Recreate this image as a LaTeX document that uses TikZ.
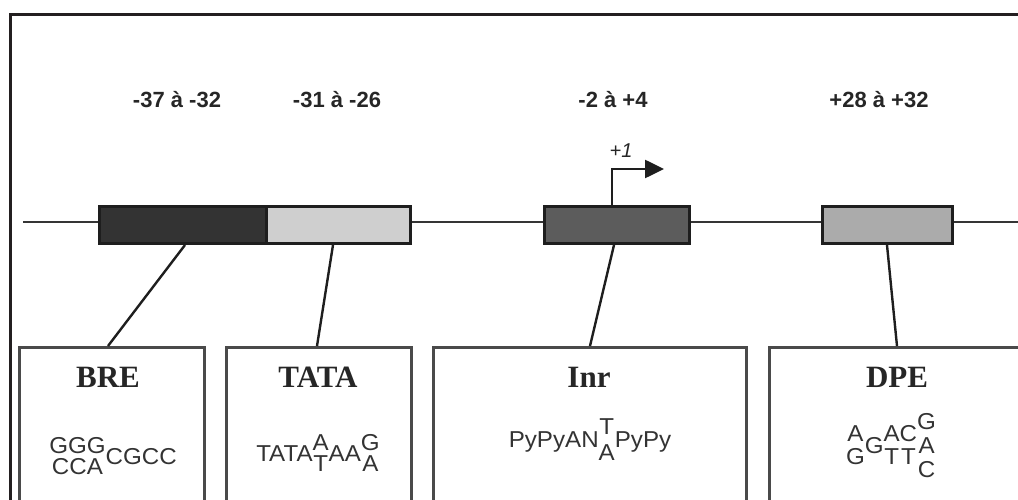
\documentclass[tikz,border=0pt]{standalone}
\usepackage{fontspec}
\setmainfont{Liberation Serif}
\setsansfont{Liberation Sans}
\newfontfamily\seqfont[FakeStretch=1.05]{Liberation Sans}
\usetikzlibrary{arrows.meta,calc}
\newcommand\stk[3][20]{\raisebox{\dimexpr -#1pt/2\relax}{\vbox{\baselineskip=#1pt\lineskiplimit=-100pt\halign{\hfil##\hfil\cr#2\cr#3\cr}}}}
\newcommand\stkk[4][24]{\raisebox{-#1pt}{\vbox{\baselineskip=#1pt\lineskiplimit=-100pt\halign{\hfil##\hfil\cr#2\cr#3\cr#4\cr}}}}
\definecolor{framec}{HTML}{231F20}
\definecolor{barline}{HTML}{1E1E1E}
\definecolor{boxline}{HTML}{4A4A4A}
\definecolor{brefill}{HTML}{333333}
\definecolor{tatafill}{HTML}{CFCFCF}
\definecolor{inrfill}{HTML}{5C5C5C}
\definecolor{dpefill}{HTML}{ABABAB}
\tikzset{
  bar/.style={draw=barline, line width=3pt, rectangle, inner sep=0pt, anchor=north west},
  lowbox/.style={draw=boxline, line width=3pt, fill=white, rectangle, inner sep=0pt, anchor=north west},
  poslabel/.style={font=\sffamily\bfseries\fontsize{22}{26}\selectfont, inner sep=0pt, anchor=base, text=black!85},
  ttl/.style={font=\rmfamily\bfseries\fontsize{31}{34}\selectfont, inner sep=0pt, anchor=base, text=black!85},
  seq/.style={font=\seqfont\fontsize{23}{18}\selectfont, inner sep=0pt, anchor=base, text=black!80},
  conn/.style={draw=barline, line width=2.4pt},
}
\begin{document}
\begin{tikzpicture}[x=1pt,y=-1pt]
\useasboundingbox (0,0) rectangle (1018,500);
\clip (0,0) rectangle (1018,500);
% frame
\draw[framec, line width=3pt] (10.5,520) -- (10.5,15) -- (1040,15);
% DNA line
\coordinate (dnaL) at (23,222);
\coordinate (dnaR) at (1030,222);
\draw[barline!90, line width=2pt] (dnaL) -- (dnaR);
% bars
\node[bar, fill=brefill, minimum width=167pt, minimum height=37pt] (brebar) at (98,205) {};
\node[bar, fill=tatafill, minimum width=144pt, minimum height=37pt] (tatabar) at (265,205) {};
\node[bar, fill=inrfill, minimum width=145pt, minimum height=37pt] (inrbar) at (543,205) {};
\node[bar, fill=dpefill, minimum width=130pt, minimum height=37pt] (dpebar) at (821,205) {};
% position labels
\node[poslabel] (l1) at (177,108) {-37 à -32};
\node[poslabel] (l2) at (337,108) {-31 à -26};
\node[poslabel] (l3) at (613,108) {-2 à +4};
\node[poslabel] (l4) at (879,108) {+28 à +32};
% TSS arrow
\coordinate (tssTip) at (664,169);
\draw[barline, line width=2.6pt, -{Triangle[length=19pt,width=18pt]}] ([xshift=69pt]inrbar.north west) |- (tssTip);
\node[font=\sffamily\itshape\fontsize{20}{22}\selectfont, inner sep=0pt, anchor=base, text=black!85] (plus1) at (621,158) {+1};
% lower boxes
\node[lowbox, minimum width=185pt, minimum height=180pt] (brebox) at (18,346) {};
\node[lowbox, minimum width=185pt, minimum height=180pt] (tatabox) at (225,346) {};
\node[lowbox, minimum width=313pt, minimum height=180pt] (inrbox) at (432,346) {};
\node[lowbox, minimum width=260pt, minimum height=180pt] (dpebox) at (768,346) {};
% connectors
\draw[conn] ([xshift=87pt]brebar.south west) -- ([xshift=90pt]brebox.north west);
\draw[conn] ([xshift=68pt]tatabar.south west) -- ([xshift=92pt]tatabox.north west);
\draw[conn] ([xshift=71pt]inrbar.south west) -- ([xshift=158pt]inrbox.north west);
\draw[conn] ([xshift=66pt]dpebar.south west) -- ([xshift=129pt]dpebox.north west);
% titles
\node[ttl] (t1) at (108,387) {BRE};
\node[ttl] (t2) at (318,387) {TATA};
\node[ttl] (t3) at (589,387) {Inr};
\node[ttl] (t4) at (897,387) {DPE};
% sequences
\node[seq] (s1) at (113,464) {\stk[21]{GGG}{CCA}CGCC};
\node[seq] (s2) at (318,461) {TATA\stk[21]{A}{T}AA\stk[21]{G}{A}};
\node[seq] (s3) at (590,447) {PyPyAN\stk[26]{T}{A}PyPy};
\node[seq] (s4) at (891,453) {\stk[23]{A}{G}G\stk[23]{A}{T}\stk[23]{C}{T}\stkk[24]{G}{A}{C}};
\end{tikzpicture}
\end{document}
